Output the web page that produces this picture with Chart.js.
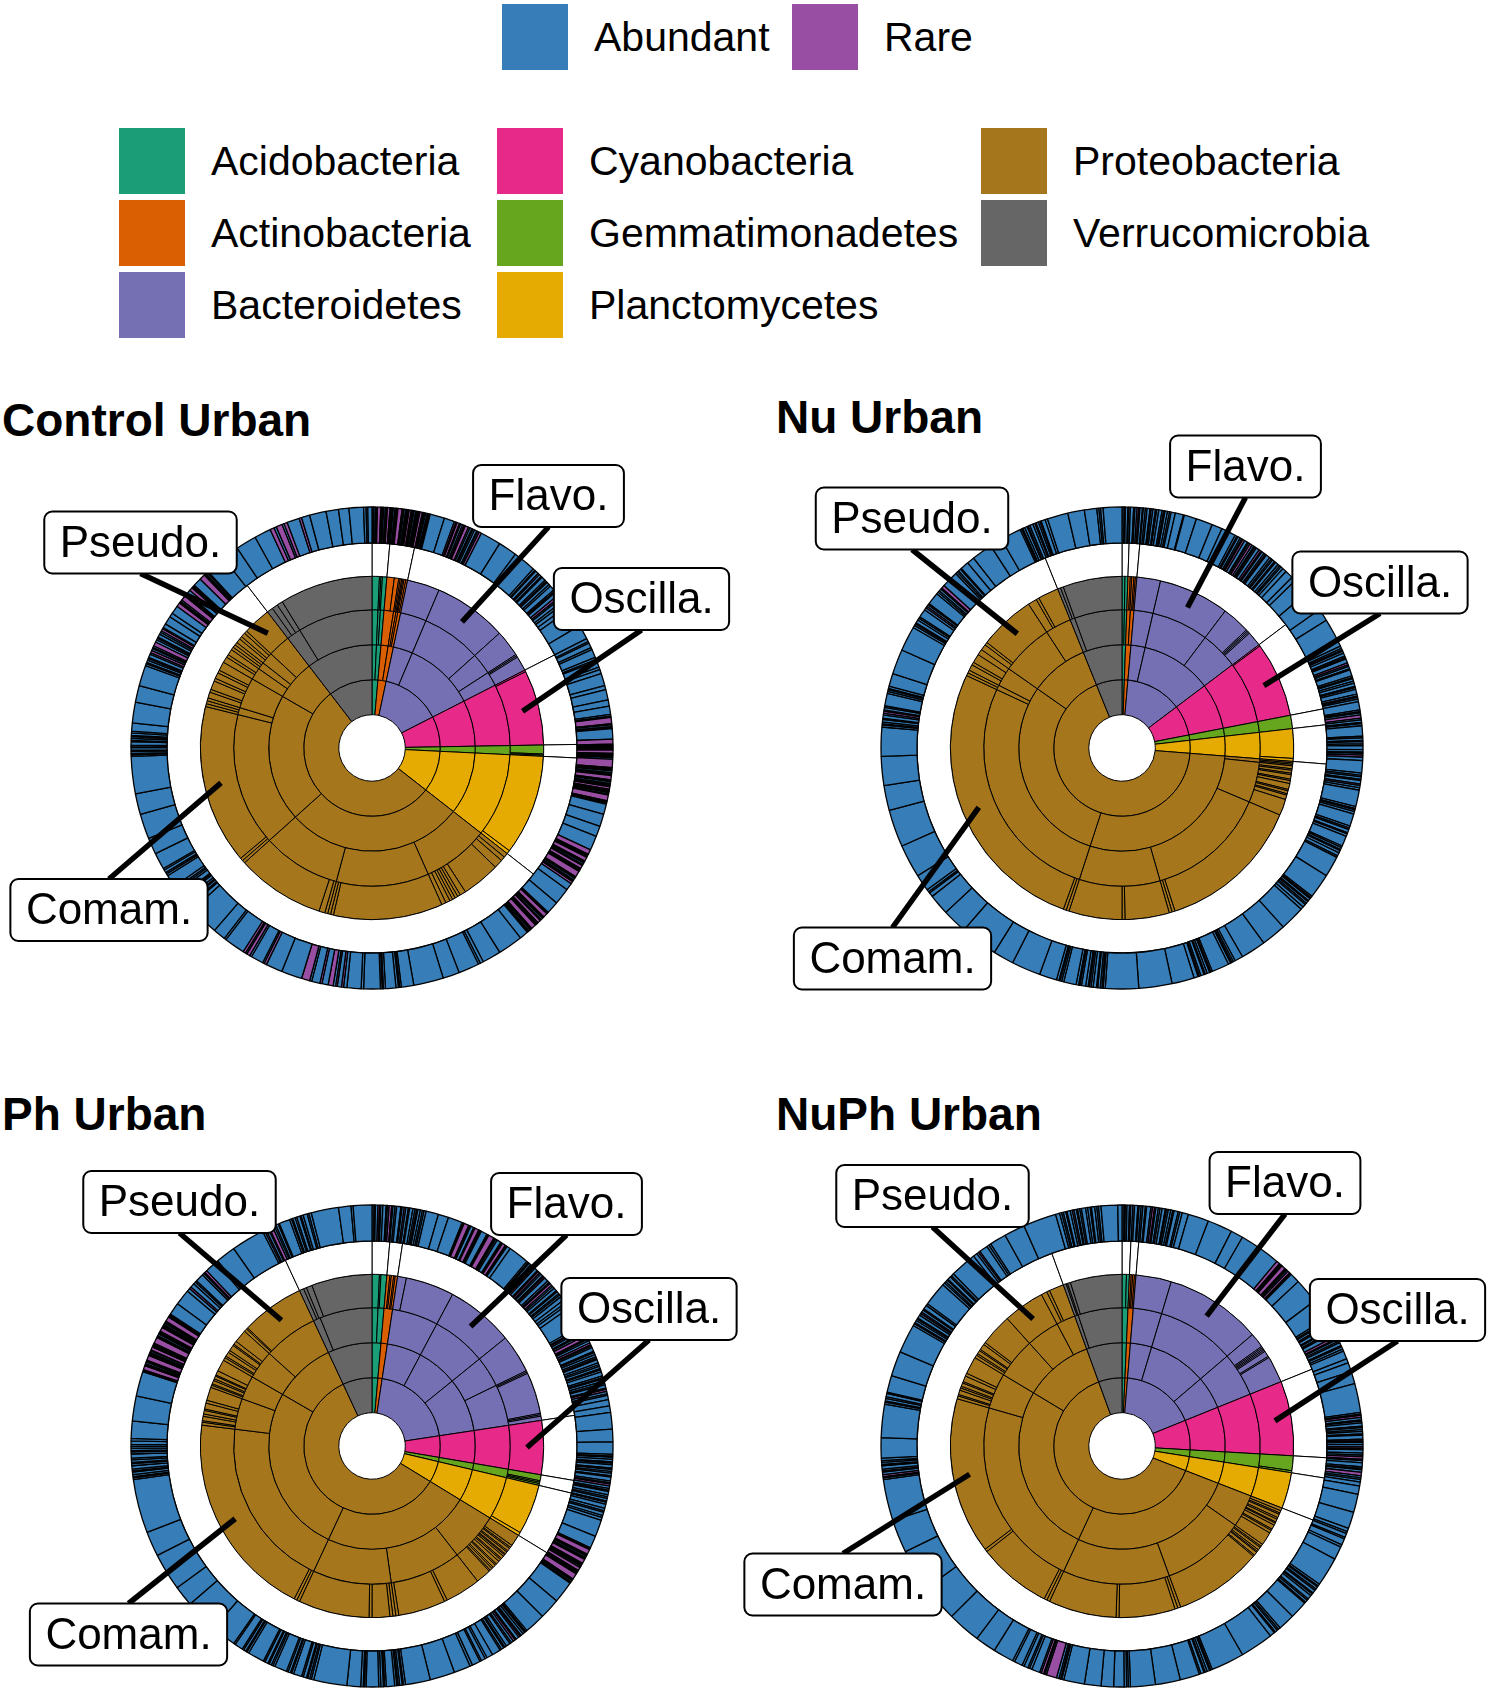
<!DOCTYPE html>
<html lang="en">
<head>
<meta charset="utf-8">
<title>Abundant and rare taxa - Urban</title>
<script src="https://cdn.jsdelivr.net/npm/chart.js@4.4.1/dist/chart.umd.min.js"></script>
<style>
  html, body { margin: 0; padding: 0; background: #fff; }
  body { position: relative; width: 1494px; height: 1691px; overflow: hidden;
         font-family: "Liberation Sans", Arial, Helvetica, sans-serif; color: #000; }
  .swatch { position: absolute; width: 66px; height: 66px; }
  .key { position: absolute; font-size: 41px; line-height: 66px; white-space: nowrap; }
  .title { position: absolute; font-size: 46px; line-height: 46px; font-weight: bold; white-space: nowrap; }
  canvas { position: absolute; }
</style>
</head>
<body>
<div id="legend"></div>

<div class="title" style="left:2px;top:397px">Control Urban</div>
<div class="title" style="left:776px;top:394px">Nu Urban</div>
<div class="title" style="left:2px;top:1091px">Ph Urban</div>
<div class="title" style="left:776px;top:1091px">NuPh Urban</div>

<canvas id="ctrl" width="745" height="605" style="left:0;top:425px"></canvas>
<canvas id="nu" width="759" height="605" style="left:735px;top:425px"></canvas>
<canvas id="ph" width="745" height="551" style="left:0;top:1140px"></canvas>
<canvas id="nuph" width="759" height="551" style="left:735px;top:1140px"></canvas>

<script>
// legend / colours
const phylumNames = ['Acidobacteria', 'Actinobacteria', 'Bacteroidetes', 'Cyanobacteria',
                     'Gemmatimonadetes', 'Planctomycetes', 'Proteobacteria', 'Verrucomicrobia'];
const phylumColors = ['#1B9E77', '#D95F02', '#7570B3', '#E7298A', '#66A61E', '#E6AB02', '#A6761D', '#666666'];
const statusNames = ['Abundant', 'Rare'];
const statusColors = ['#377EB8', '#984EA3'];

// reads per taxon (one circle = 3600), phyla in legend order, clockwise from 12 o'clock
// sub-levels are listed per phylum: class, order, family

// ---- Control Urban
const ctrlPhylum = [50, 70, 510, 260, 38, 352, 1945, 375];
const ctrlClass = [[25, 25], [40, 30], [110, 400], [260], [38], [352], [1000, 720, 225], [375]];
const ctrlOrder = [[25, 10, 15], [40, 10, 8, 12], [110, 250, 90, 60], [260], [38], [352],
                   [280, 390, 330, 560, 30, 130, 50, 30, 50, 95], [60, 315]];
const ctrlFamily = [[25, 5, 5, 15], [25, 15, 5, 5, 4, 4, 6, 6], [110, 250, 90, 5, 5, 50], [6, 254], [30, 4, 4], [340, 12],
                    [15, 15, 30, 130, 20, 10, 10, 10, 10, 15, 15, 370, 10, 10, 10, 20, 300, 10, 10, 540, 10, 10, 10,
                     20, 10, 30, 10, 20, 10, 30, 20, 10, 20, 10, 10, 10, 15, 10, 15, 10, 95],
                    [20, 20, 20, 315]];
// OTUs, clockwise: reads + A (abundant) / R (rare)
const ctrlOtu = `
 2A 2A 4A 2A 3A 8R 2A 3A 2A 4A 3A 2A 6R 3A 2A 3A 4A 2A 3A 2A 10R 3A 2A 4A 3A 2A 3A 5R 2A 3A 2A 4A 3A 2A 3A 2A 6R 3A 2A 3A 4A 2A 3A 2A
 35A 25A
 4R 3A 6R 3A 5A 4R 3A 8R 4A 5A 3R 4A 6A 2R 4A 6R
 50A 45A 55A
 5A 3A 8A 4R 6A 3A 10A 4A 3R 7A 5A 12A 4A 3A 9A 6R 4A 8A 6A 10A 10A
 45A 35A
 8A 4A 12A 5A 20A 6A 4A 15A 6A 10A
 30A 10A 25A 15A 20A
 4A 3A 15R 3A 4A 2A 3A 25A 12R 3A 2A 4A 3A 2A 8R 3A 2A 3A 2A 4A 20R 3A 2A 3A 4A 2A 3A 2A 10R 3A 2A 4A 3A 2A 3A 6R 3A 2A 3A 4A 2A 14R 3A 2A 3A 25A
 30A 25A 35A
 12R 3A 2A 3A 10R 3A 2A 4A 3A 8R 3A 2A 3A 15R 3A 2A 4A 3A 2A 6R 17A
 40A 30A
 3A 2A 10R 3A 2A 4A 3A 8R 3A 2A 3A 12R 3A 2A 4A 3A 2A 21A
 60A 45A 8A 5A 50A 40A 72A
 30A 4A 3A 6A 25A 5A 3A 4A 40A 6A 34A
 8A 5R 10A 4R 6A 12R 15A 5R 20A 5A 20R 50A
 40A 6R 4A 30A 5A 8R 4A 6R 50A 5A 30A 72A
 10A 4A 6A 3R 5A 8A 4A 3A 12A 5A 4A 6A 30A 5A 4A 7A 4A 40A 40A
 60A 50A 90A
 4A 3A 5A 3A 6A 2A 4A 8A 3A 5A 4A 3A 6A 4A 20A
 50A 40A 50A
 5A 3R 6A 4A 3R 8A 4A 6R 5A 3A 4A 10R 6A 4A 3R 8A 5A 4A 6R 3A 10A 20A 10A 20A
 10R 3A 2A 4A 12R 3A 2A 3A 10A 8R 3A 2A 3A 20A 14R 3A 2A 4A 3A 49A
 40A 50A 40A
 10R 6A 15R 5A 8R 30A 6R 20A
 40A 30A 25A 35A
 6A 4A 10A`;

// ---- Nu Urban
const nuPhylum = [20, 30, 480, 260, 45, 110, 2435, 220];
const nuClass = [[20], [30], [80, 400], [260], [45], [110], [1035, 1070, 330], [220]];
const nuOrder = [[10, 10], [15, 15], [80, 240, 160], [260], [45], [110],
                 [15, 170, 510, 340, 970, 20, 80, 220, 110], [20, 200]];
const nuFamily = [[10, 10], [8, 5, 7, 5, 5], [80, 240, 95, 5, 5, 5, 50], [5, 255], [45], [100, 10],
                  [5, 5, 5, 10, 5, 10, 5, 15, 5, 10, 20, 5, 10, 5, 15, 55, 490, 10, 10, 150, 10, 180,
                   10, 10, 950, 10, 10, 20, 10, 30, 20, 20, 10, 190, 30, 10, 70],
                  [10, 10, 200]];
const nuOtu = `
 5A 3A 6A 2A 4A 8A 3A 5A 4R 3A 6A 2A 5A 4A 7A 3A 4A 6A 3A 5A 8A 4A 3A 6A 5A 4A 10A 20A 2A
 30A 40A 25A 35A
 5A 3R 6A 4A 3A 5R 8A 3A 4A 6R 5A 3A 4A 8A 5R 3A 6A 4A 3R 10A 5A 4A 6A 3R 8A 5A 4A 6A 10A 20A 11A
 40A 50A 30A 70A
 6A 4A 3R 5A 8A 4A 3A 10A 5R 4A 6A 3A 15A 4A 3R 6A 5A 8A 3A 4A 12A 5A 3R 4A 6A 20A 4A 3A 5A 8R
 4A 6A 3A 5A 25A 4A 6A 3R 5A 4A 10A 6A 3A 4A 5R 8A 30A 5A 4A 6A 3A 8A 4R 5A 6A 40A 5A 3A 4A 6A
 30A 5A 4A 8A 3R 6A 25A 4A 5A 3A 6A 8A 4A 50A
 60A
 4A 3A 6A 3A 5A 4A 8A 7A
 60A 60A 60A
 20A 5A 4A 3A 6A 42A
 4A 3A 6A 5A 3A 8A 4A 3A 10A 54A
 80A 80A
 5A 3A 4A 6A 3A 8A 5A 4A 3R 6A 10A 4A 3A 6A 30A 5A 4A 3A 6A 42A
 70A 50A 90A 60A 50A
 10A 4A 6A 40A
 80A 90A 60A 70A 70A
 5A 3A 4A 6A 3A 8A 4A 5R 3A 6A 4A 30A 5A 4A 3A 6A 31A
 60A 60A
 6A 4A 3R 8A 5A 4A 20A 6A 4R 5A 3A 30A 5A 4A 6A 3A 8R 40A 5A 4A 6A 3A 20A 18A
 50A 30A 50A
 4A 3A 5A 6A 3A 4A 8A 5A 3A 6A 4A 3A 10A 6A 50A
 40A 30A 5A 4A 6A 45A`;

// ---- Ph Urban
const phPhylum = [50, 36, 728, 183, 36, 181, 2136, 250];
const phClass = [[50], [36], [194, 230, 304], [183], [36], [181], [836, 950, 350], [250]];
const phOrder = [[25, 25], [36], [194, 230, 130, 174], [183], [36], [181],
                 [206, 300, 330, 720, 130, 100, 120, 230], [30, 220]];
const phFamily = [[25, 5, 20], [10, 5, 8, 5, 8], [30, 164, 230, 130, 5, 5, 140, 5, 5, 14], [183], [20, 5, 5, 6], [170, 11],
                  [40, 8, 5, 10, 5, 8, 4, 6, 10, 5, 8, 12, 5, 10, 6, 8, 5, 51, 120, 10, 160, 10, 10, 10, 60, 10, 240,
                   10, 10, 700, 10, 5, 15, 8, 12, 5, 20, 10, 45, 8, 5, 12, 6, 10, 4, 15, 40,
                   10, 6, 15, 8, 20, 5, 12, 44, 10, 5, 215],
                  [15, 10, 20, 205]];
const phOtu = `
 5A 3A 6A 4R 3A 5A 8A 3A 4A 6R 3A 5A 4A 10A 3A 5A 4R 6A 3A 8A 5A 4A 3R 6A 5A 4A 5A
 30A 25A 35A
 3A 2A 12R 3A 2A 8A 3A 10R 2A 3A 2A 15A 3A 2A 14R 3A 2A 4A 10A 3A 2A 8R 3A 2A 9A
 50A
 4A 3R 5A 6A 3A 4R 8A 3A 5R 4A 6A 3A 4R 10A 5A 3A 6R 4A 5A 8A 3R 6A 4A 5A 10A 8A 6A 9A
 50A
 5A 3A 4R 6A 3A 5A 8R 3A 4A 6A 5R 3A 4A 10A 3R 5A 6A 4A 3R 8A 5A 4A 6A 3R 5A 10A 4A 3R 6A 5A 4A 8A 3A 5R 6A 4A 10A 15A 16A
 40A 30A 30A
 4A 3A 5A 6A 3A 4A 8A 3R 5A 4A 6A 3A 10A 4A 3A 5R 6A 4A 3A 8A 5A 4A 6A 3A 5A 10A 6A 4A 8A 5A 7A
 40A 30A
 3A 2A 12R 3A 2A 4A 3A 2A 10R 3A 2A 3A 4A 8R 3A 2A 3A 2A 14R 3A 2A 4A 3A 53A
 50A 50A
 4A 3R 5A 6A 3A 4R 8A 3A 5R 6A 4A 10A 5A 3R 6A 4A 21A
 15A 5A 10A 4A 20A 6A 40A
 60A 60A
 5A 3R 6A 4A 3R 5A 20A 4A 3A 6A 5A 30A 4A 3A 6A 33A
 80A
 6A 4A 5A 3A 8A 4A 20A 5A 3A 6A 4A 30A 5A 4A 6A 3A 8A 4A 40A 5A 3A 6A 4A 20A 4A
 60A 80A 50A 90A 60A 130A
 4A 3A 5A 6A 3A 4A 8A 5A 3A 6A 4A 10A 5A 3A 6A 4A 5A 8A 6A 42A
 60A 60A
 3A 2A 10R 3A 2A 4A 3A 2A 12R 3A 2A 3A 4A 2A 8R 3A 2A 3A 2A 15R 3A 2A 4A 3A 2A 3A 10R 3A 2A 3A 4A 2A 3A 12R 3A 2A 3A 30A 38A
 8A 5R 10A 6A 4A 20A 5A 3A 6R 30A 5A 48A
 80A
 5A 4R 6A 3A 8R 5A 4A 6A 3R 26A
 5A 3A 6A 4A 8A 3A 5A 10A 4A 6A 66A
 30A 5A 45A`;

// ---- NuPh Urban
const npPhylum = [25, 22, 633, 253, 57, 122, 2288, 200];
const npClass = [[25], [22], [120, 328, 185], [253], [57], [122], [938, 960, 390], [200]];
const npOrder = [[25], [22], [120, 328, 185], [253], [57], [122],
                 [138, 350, 450, 810, 150, 170, 140, 80], [15, 185]];
const npFamily = [[15, 10], [6, 5, 6, 5], [120, 328, 50, 5, 5, 5, 5, 20, 5, 90], [253], [50, 7], [122],
                  [10, 8, 5, 12, 6, 10, 4, 8, 15, 5, 10, 45, 8, 5, 10, 6, 4, 12, 5, 300, 10, 10, 190, 10, 230,
                   10, 10, 250, 10, 530, 10, 5, 15, 8, 6, 12, 5, 20, 10, 59, 10, 6, 12, 5, 20, 8, 109, 140, 20, 10, 50],
                  [10, 5, 10, 175]];
const npOtu = `
 5A 3A 4A 6A 3R 5A 4A 8A 3A 5A 4A 6A 3A 10A 4A 5R 3A 6A 4A 5A 8A 3A 4A 6A 5A 3A 10A 4A 6A 15A
 50A 60A 30A 100A
 8R 3A 2A 3A 10R 3A 2A 4A 6R 3A 2A 24A
 60A 50A
 5A 3R 6A 4A 8A 3R 5A 4A 10A 6R 3A 5A 4A 8A 3R 6A 5A 20A 10A 22A 30A
 70A
 4A 3A 5R 6A 3A 4A 8A 3R 5A 4A 6A 3A 10A 4R 3A 5A 6A 4R 3A 8A 5A 4A 6R 3A 5A 10A 4A 3A 6A 8R 5A 4A 6A 10A 20A 44A
 40A
 8A 5A 10A 4A 15A 6A 32A
 70A
 5A 3A 6A 4A 8A 3A 5A 10A 4A 6A 3A 43A
 40A
 5A 4A 6A 3A 12A
 80A 80A
 4A 3A 6A 5A 3A 8A 4A 47A
 60A 60A
 5A 4A 6A 25A
 30A 40A 50A
 5A 3R 4A 6A 25R 4A 3A 6R 4A 20A
 6A 4A 10A 5A 20A 5A 50A
 50A 80A 90A 100A 80A 100A
 4A 3A 5R 6A 3A 4A 8A 3R 5A 4A 6A 49A
 80A
 5A 3A 6A 4A 8A 3A 41A
 60A 70A
 5A 3R 6A 4A 3R 8A 5A 4R 6A 3A 10A 5A 58A
 6A 4A 5A 3A 8A 4A 6A 64A
 10A 5A 4R 20A 6A 5A 40A 50A
 80A
 10A 5A 4A 6A 3A 8A 5A 4R 6A 3A 5A 4A 10A 5A 6A 3A 8A 5A 4A 6A 40A 10A`;

// ---------------------------------------------------------------- legend
const legend = document.getElementById('legend');
function key(x, y, color, text) {
  const s = document.createElement('div');
  s.className = 'swatch';
  s.style.left = x + 'px'; s.style.top = y + 'px'; s.style.background = color;
  legend.appendChild(s);
  const t = document.createElement('div');
  t.className = 'key';
  t.style.left = (x + 92) + 'px'; t.style.top = y + 'px';
  t.textContent = text;
  legend.appendChild(t);
}
key(502, 4, statusColors[0], statusNames[0]);
key(792, 4, statusColors[1], statusNames[1]);
const keyCols = [119, 497, 981], keyRows = [128, 200, 272];
phylumNames.forEach((n, i) => key(keyCols[Math.floor(i / 3)], keyRows[i % 3], phylumColors[i], n));

// ---------------------------------------------------------------- charts
// spread each phylum total over its sub-taxa so that all rings line up
function spread(phylum, parts) {
  const data = [], colors = [];
  phylum.forEach((total, p) => {
    const sub = parts ? parts[p] : [total];
    const s = sub.reduce((a, b) => a + b, 0);
    sub.forEach(v => { data.push(v * total / s); colors.push(phylumColors[p]); });
  });
  return {data, colors};
}

function sunburst(id, cx, cy, phylum, cls, ord, fam, otuText, labels) {
  const canvas = document.getElementById(id);
  const W = canvas.width, H = canvas.height;
  const otu = otuText.trim().split(/\s+/);
  const famRing = spread(phylum, fam), ordRing = spread(phylum, ord), clsRing = spread(phylum, cls),
        phyRing = spread(phylum, null);
  const famStart = [];
  let n = 0;
  fam.forEach(f => { famStart.push(n); n += f.length; });

  // genus labels with leader lines pointing at a family slice
  const labelPlugin = {
    id: 'taxLabels',
    afterDraw(chart) {
      const ctx = chart.ctx;
      const arcs = chart.getDatasetMeta(2).data;
      ctx.save();
      ctx.font = '44px "Liberation Sans", Arial, sans-serif';
      ctx.textAlign = 'center';
      ctx.textBaseline = 'middle';
      labels.forEach(l => {
        const arc = arcs[famStart[l.target[0]] + l.target[1]];
        const p = arc.getCenterPoint();
        const bx = arc.x + l.dx, by = arc.y + l.dy;
        const w = ctx.measureText(l.text).width + 31, h = 62;
        const ey = p.y > by ? by + h / 2 : by - h / 2;
        ctx.beginPath();
        ctx.moveTo(bx, ey);
        ctx.lineTo(p.x, p.y);
        ctx.lineWidth = 5.5;
        ctx.lineCap = 'butt';
        ctx.strokeStyle = '#000';
        ctx.stroke();
        ctx.beginPath();
        ctx.roundRect(bx - w / 2, by - h / 2, w, h, 8);
        ctx.fillStyle = '#fff';
        ctx.fill();
        ctx.lineWidth = 2;
        ctx.stroke();
        ctx.fillStyle = '#000';
        ctx.fillText(l.text, bx, by + 2);
      });
      ctx.restore();
    }
  };

  new Chart(canvas, {
    type: 'doughnut',
    data: {
      datasets: [
        { // OTUs
          data: otu.map(t => parseFloat(t)),
          backgroundColor: otu.map(t => t.endsWith('R') ? statusColors[1] : statusColors[0]),
          borderColor: '#000', borderWidth: 1.3, weight: 36
        },
        { // spacer ring, only phylum borders
          data: phyRing.data, backgroundColor: '#fff', borderColor: '#000', borderWidth: 1, weight: 33.3
        },
        { data: famRing.data, backgroundColor: famRing.colors, borderColor: '#000', borderWidth: 1, weight: 33.4 },
        { data: ordRing.data, backgroundColor: ordRing.colors, borderColor: '#000', borderWidth: 1, weight: 35 },
        { data: clsRing.data, backgroundColor: clsRing.colors, borderColor: '#000', borderWidth: 1, weight: 35 },
        { data: phyRing.data, backgroundColor: phyRing.colors, borderColor: '#000', borderWidth: 1, weight: 35 }
      ]
    },
    options: {
      responsive: false,
      animation: false,
      events: [],
      radius: 241,
      cutout: '13.8%',
      layout: { padding: { left: cx - 245, right: W - cx - 245, top: cy - 245, bottom: H - cy - 245 } },
      plugins: { legend: { display: false }, tooltip: { enabled: false } }
    },
    plugins: [labelPlugin]
  });
}

sunburst('ctrl', 372, 323, ctrlPhylum, ctrlClass, ctrlOrder, ctrlFamily, ctrlOtu, [
  { text: 'Flavo.', target: [2, 1], dx: 176.5, dy: -252 },
  { text: 'Oscilla.', target: [3, 1], dx: 269.5, dy: -149 },
  { text: 'Pseudo.', target: [6, 40], dx: -231.5, dy: -205.5 },
  { text: 'Comam.', target: [6, 19], dx: -263, dy: 162 }
]);
sunburst('nu', 387, 323, nuPhylum, nuClass, nuOrder, nuFamily, nuOtu, [
  { text: 'Flavo.', target: [2, 1], dx: 123.5, dy: -281.5 },
  { text: 'Oscilla.', target: [3, 1], dx: 258, dy: -165.5 },
  { text: 'Pseudo.', target: [6, 33], dx: -210, dy: -229.5 },
  { text: 'Comam.', target: [6, 24], dx: -229.5, dy: 210.5 }
]);
sunburst('ph', 372, 306, phPhylum, phClass, phOrder, phFamily, phOtu, [
  { text: 'Pseudo.', target: [6, 57], dx: -192.5, dy: -244 },
  { text: 'Flavo.', target: [2, 2], dx: 194.5, dy: -242 },
  { text: 'Oscilla.', target: [3, 0], dx: 277, dy: -137 },
  { text: 'Comam.', target: [6, 29], dx: -243.5, dy: 188.5 }
]);
sunburst('nuph', 387, 306, npPhylum, npClass, npOrder, npFamily, npOtu, [
  { text: 'Pseudo.', target: [6, 47], dx: -189.5, dy: -250 },
  { text: 'Flavo.', target: [2, 1], dx: 163, dy: -263 },
  { text: 'Oscilla.', target: [3, 0], dx: 275.5, dy: -136 },
  { text: 'Comam.', target: [6, 29], dx: -279, dy: 138.5 }
]);
</script>
</body>
</html>
